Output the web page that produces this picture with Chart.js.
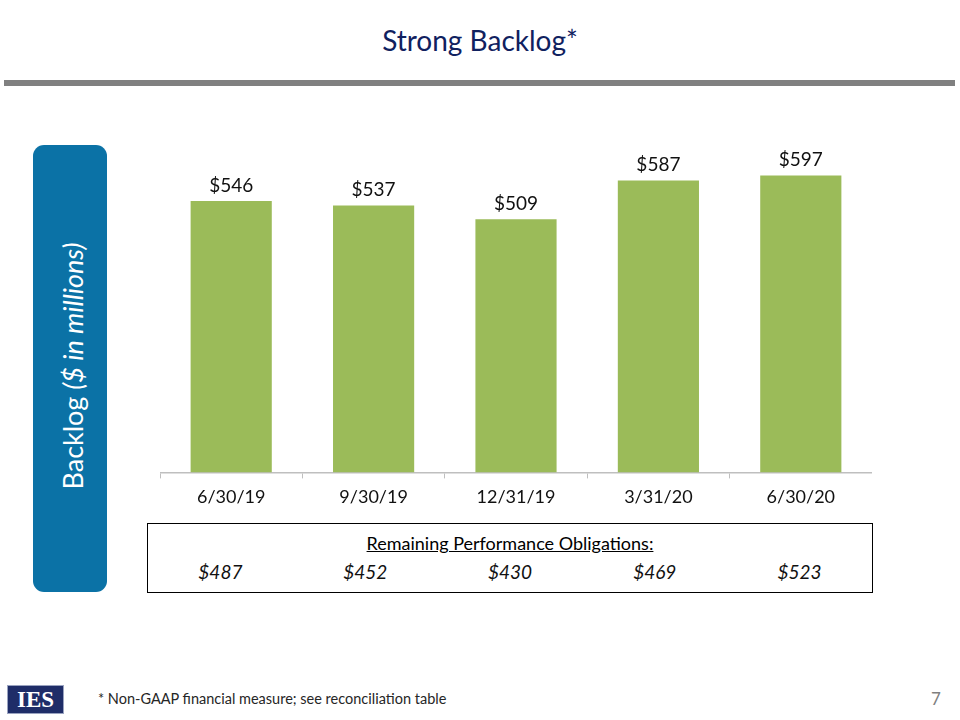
<!DOCTYPE html>
<html>
<head>
<meta charset="utf-8">
<script src="https://cdn.jsdelivr.net/npm/chart.js@4/dist/chart.umd.min.js"></script>
<style>
  body { margin: 0; background: #fff; font-family: Lato, "Open Sans", sans-serif; }
  #page { position: relative; width: 960px; height: 720px; overflow: hidden; }
  #title { position: absolute; left: 0; width: 960px; top: 23px; text-align: center;
           font-size: 28px; color: #10215f; }
  #rule { position: absolute; left: 4px; width: 951px; top: 80px; height: 6px; background: #808080; }
  #side { position: absolute; left: 33px; top: 145px; width: 74px; height: 447px;
          background: #0b72a6; border-radius: 11px; }
  #sideText { position: absolute; left: 72px; top: 366px; transform: translate(-50%, -50%) rotate(-90deg);
              white-space: nowrap; color: #fff; font-size: 27px; }
  #chartWrap { position: absolute; left: 160px; top: 110px; width: 712px; height: 406px; }
  #rpoBox { position: absolute; left: 147px; top: 523px; width: 724px; height: 68px;
            border: 1.5px solid #000; }
  #rpoHead { position: absolute; left: 0; width: 724px; top: 8px; text-align: center;
             font-size: 18px; text-decoration: underline; color: #000; }
  #rpoRow { position: absolute; left: 0; width: 724px; top: 36px; display: flex; }
  #rpoRow span { flex: 1; text-align: center; font-size: 19px; font-style: italic; color: #111; }
  #logo { position: absolute; left: 8px; top: 686px; width: 55px; height: 27px; background: #1f2d68;
          color: #fff; font-family: "Liberation Serif", "DejaVu Serif", serif; font-weight: bold;
          font-size: 23px; line-height: 27px; text-align: center; outline: 1px solid #9aa3c0; }
  #note { position: absolute; left: 98px; top: 690px; font-size: 14.5px; color: #262626; }
  #pageNo { position: absolute; left: 931px; top: 688px; font-size: 17px; color: #7f7f7f; }
</style>
</head>
<body>
<div id="page">
  <div id="title">Strong Backlog*</div>
  <div id="rule"></div>
  <div id="side"></div>
  <div id="sideText">Backlog <i>($ in millions)</i></div>
  <div id="chartWrap"><canvas id="chart"></canvas></div>
  <div id="rpoBox">
    <div id="rpoHead">Remaining Performance Obligations:</div>
    <div id="rpoRow"></div>
  </div>
  <div id="logo">IES</div>
  <div id="note">* Non-GAAP financial measure; see reconciliation table</div>
  <div id="pageNo">7</div>
</div>
<script>
const categories = ["6/30/19", "9/30/19", "12/31/19", "3/31/20", "6/30/20"];
const backlog = [546, 537, 509, 587, 597];
const rpo = [487, 452, 430, 469, 523];

// RPO values under the chart
const row = document.getElementById("rpoRow");
rpo.forEach((v) => {
  const s = document.createElement("span");
  s.textContent = "$" + v;
  row.appendChild(s);
});

// draws "$546" etc above each bar
const barLabels = {
  id: "barLabels",
  afterDatasetsDraw(chart) {
    const ctx = chart.ctx;
    const meta = chart.getDatasetMeta(0);
    ctx.save();
    ctx.font = "19px Lato";
    ctx.fillStyle = "#111";
    ctx.textAlign = "center";
    ctx.textBaseline = "bottom";
    meta.data.forEach((bar, i) => {
      ctx.fillText("$" + backlog[i], bar.x, bar.y - 6);
    });
    ctx.restore();
  },
};

new Chart(document.getElementById("chart"), {
  type: "bar",
  data: {
    labels: categories,
    datasets: [
      {
        data: backlog,
        backgroundColor: "#9bbb59",
        barPercentage: 0.57,
        categoryPercentage: 1,
      },
    ],
  },
  options: {
    responsive: true,
    maintainAspectRatio: false,
    animation: false,
    layout: { padding: 0 },
    plugins: { legend: { display: false }, tooltip: { enabled: false } },
    scales: {
      x: {
        grid: { display: true, drawOnChartArea: false, drawTicks: true, tickLength: 6, color: "#bfbfbf", offset: true },
        border: { color: "#bfbfbf", width: 1.5 },
        ticks: { color: "#111", font: { family: "Lato", size: 18 }, padding: 8 },
      },
      y: { display: false, min: 0, max: 729 },
    },
  },
  plugins: [barLabels],
});
</script>
</body>
</html>
